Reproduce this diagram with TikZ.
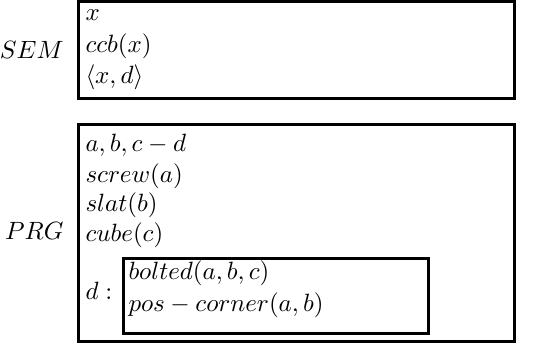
\documentclass[tikz,border=0pt]{standalone}
\usetikzlibrary{fit}
\begin{document}
\begin{tikzpicture}[x=0.4pt,y=-0.4pt,
  framebox/.style={draw, line width=1.2pt, inner sep=0pt},
  line/.style={anchor=base west, inner sep=0pt, font=\fontsize{10.3}{12.4}\selectfont},
  tag/.style={anchor=base east, inner sep=0pt, font=\fontsize{10}{12}\selectfont}]
  \useasboundingbox (0,0) rectangle (546,345);

  % SEM frame
  \coordinate (s1) at (78,1.5);
  \coordinate (s2) at (514.5,98.5);
  \node[framebox, fit=(s1)(s2)] (sembox) {};
  \node[tag] (semlbl) at (64,59) {$SEM$};
  \node[line] (sem1) at (85,21) {$x$};
  \node[line] (sem2) at (85,53) {$ccb(x)$};
  \node[line] (sem3) at (85,84) {$\langle x,d\rangle$};

  % PRG frame
  \coordinate (p1) at (78,125);
  \coordinate (p2) at (514.5,341.5);
  \node[framebox, fit=(p1)(p2)] (prgbox) {};
  \node[tag] (prglbl) at (64,240) {$PRG$};
  \node[line] (prg1) at (85,152) {$a,b,c-d$};
  \node[line] (prg2) at (85,183) {$screw(a)$};
  \node[line] (prg3) at (85,212) {$slat(b)$};
  \node[line] (prg4) at (85,242) {$cube(c)$};
  \node[line] (dlbl) at (85,300) {$d:$};

  % nested frame for d
  \coordinate (d1) at (123.5,258.5);
  \coordinate (d2) at (428,333.5);
  \node[framebox, fit=(d1)(d2)] (dbox) {};
  \node[line] (d1txt) at (128,280) {$bolted(a,b,c)$};
  \node[line] (d2txt) at (128,312) {$pos-corner(a,b)$};
\end{tikzpicture}
\end{document}
